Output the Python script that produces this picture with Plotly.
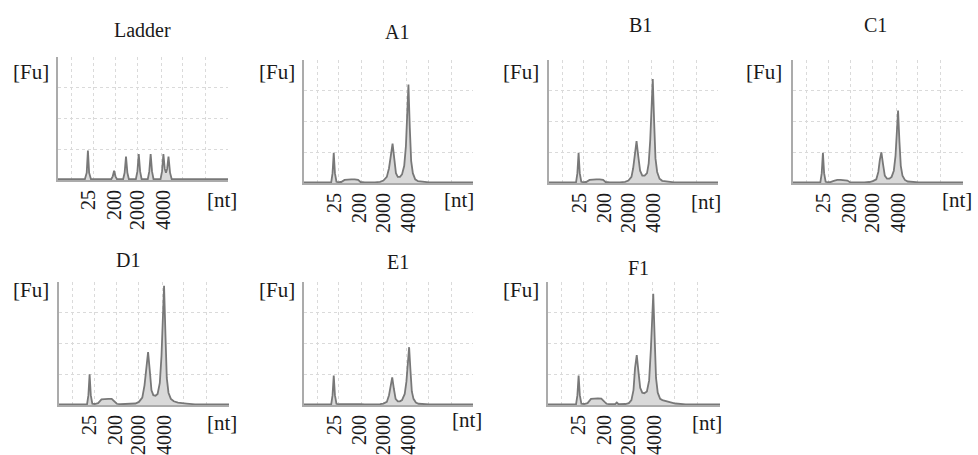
import plotly.graph_objects as go

W, H = 978, 455

# ---------------- data (migration position 0-100, fluorescence 0-100) ----------------
panel_names = ["Ladder", "A1", "B1", "C1", "D1", "E1", "F1"]
tick_vals = [18, 33, 47, 62]
tick_text = ["25", "200", "2000", "4000"]
grid_x = [7.8, 20.6, 34, 47, 60.6, 73.5, 87, 100]
grid_y = [25, 50, 75, 100]

ladder_x = [0, 15.8, 16.9, 17.6, 18.3, 19.4, 31.3, 32.2, 33, 33.8, 34.7, 38.3, 39.2, 40, 40.8, 41.7,
            45.8, 46.7, 47.5, 48.3, 49.2, 52.8, 53.7, 54.5, 55.3, 56.2, 60.3, 61.2, 62, 62.8, 63.5,
            64.2, 65, 65.9, 66.9, 100]
ladder_y = [0.6, 0.6, 6, 24, 6, 0.6, 0.6, 3, 7.5, 3, 0.6, 0.6, 6, 19, 6, 0.6,
            0.6, 7, 21, 7, 0.6, 0.6, 7, 21, 7, 0.6, 0.6, 7, 21, 9, 6,
            9, 19, 6, 0.6, 0.6]

a1_x = [0, 14, 16.1, 16.9, 17.6, 18.3, 19.2, 20.5, 22, 24, 26, 28, 30, 32, 33.5, 36, 42, 45, 47, 49,
        50.3, 51.4, 52.4, 53.4, 54.4, 55.5, 56.8, 58, 59.3, 60.3, 61.1, 61.8, 62.6, 63.4, 64.4, 65.8,
        67.5, 70, 74, 80, 100]
a1_y = [0.4, 0.4, 0.6, 8, 24.5, 8, 1, 0.6, 0.8, 2.5, 3, 3, 3, 2.5, 0.8, 0.5, 0.5, 1, 2, 5,
        12, 24, 32, 20, 8, 5, 5, 7, 14, 30, 62, 80, 45, 18, 8, 3,
        1.5, 1, 0.5, 0.4, 0.4]

b1_x = [0, 14, 16.0, 16.8, 17.5, 18.2, 19.1, 20.5, 22, 24, 26, 28, 30, 32, 33.5, 36, 42, 45, 47, 48.8,
        49.8, 50.8, 51.8, 52.8, 53.9, 55.2, 56.6, 58, 59.0, 59.9, 60.7, 61.4, 62.2, 63.0, 64.0, 65.4,
        67, 70, 74, 80, 100]
b1_y = [0.4, 0.4, 0.6, 8, 24.5, 8, 1, 0.6, 0.8, 2.5, 3, 3, 3, 2.5, 0.8, 0.5, 0.5, 1, 2, 5,
        12, 25, 34, 22, 10, 6, 6, 8, 16, 35, 68, 84.5, 50, 20, 9, 3.5,
        1.8, 1, 0.5, 0.4, 0.4]

c1_x = [0, 14, 16.1, 16.9, 17.6, 18.3, 19.2, 20.5, 22, 24, 26, 28, 30, 32, 33.5, 36, 42, 45, 47, 49,
        50.2, 51.1, 52, 53, 54, 55.3, 56.7, 58, 59.3, 60.3, 61.1, 61.8, 62.6, 63.4, 64.4, 65.8,
        67.5, 70, 74, 80, 100]
c1_y = [0.4, 0.4, 0.6, 8, 24.5, 8, 1, 0.6, 0.7, 1.8, 2.5, 2.5, 2.5, 2, 0.7, 0.5, 0.5, 0.8, 1.5, 3,
        9, 19, 25, 15, 6, 3.5, 3.5, 5, 10, 22, 46, 59, 34, 14, 6, 2.5,
        1.2, 0.8, 0.5, 0.4, 0.4]

d1_x = [0, 14, 16.5, 17.3, 18, 18.7, 19.6, 21, 23, 25, 27, 29, 31, 32.5, 34, 36, 42, 45, 47, 49,
        50.3, 51.4, 52.4, 53.4, 54.4, 55.5, 56.8, 58, 59.3, 60.3, 61.1, 61.8, 62.6, 63.4, 64.4, 65.8,
        67.5, 70, 75, 80, 100]
d1_y = [0.4, 0.4, 0.6, 8, 25, 8, 1, 0.8, 1.5, 4.5, 5, 5, 5, 3, 1, 0.6, 0.6, 1.2, 2.5, 6,
        16, 32, 43, 28, 12, 8, 7.5, 9, 18, 40, 78, 97, 58, 22, 10, 5,
        3, 2, 1.2, 0.5, 0.4]

e1_x = [0, 14, 16.1, 16.9, 17.6, 18.3, 19.2, 20.5, 22, 24, 26, 28, 30, 32, 33.5, 36, 42, 45, 47, 49,
        50.3, 51.3, 52.2, 53.2, 54.2, 55.5, 56.8, 58, 59.6, 60.6, 61.4, 62.2, 63.0, 63.8, 64.8, 66.2,
        67.8, 70, 74, 80, 100]
e1_y = [0.4, 0.4, 0.6, 8, 24, 8, 1, 0.6, 0.6, 1, 1.2, 1.2, 1, 0.8, 0.6, 0.5, 0.5, 0.7, 1.2, 2.5,
        8, 17, 22.5, 13, 5, 3, 3, 4, 9, 19, 38, 47, 28, 11, 5, 2,
        1, 0.7, 0.5, 0.4, 0.4]

f1_x = [0, 14, 16.3, 17.1, 17.8, 18.5, 19.4, 21, 23, 25, 27, 29, 31, 32.5, 34, 36, 39, 40, 41, 45,
        47, 48.5, 49.7, 50.6, 51.6, 52.6, 53.6, 54.8, 56, 57.5, 58.8, 59.8, 60.5, 61.2, 62.0, 62.8, 63.8,
        65.2, 66.5, 70, 74, 80, 100]
f1_y = [0.4, 0.4, 0.6, 8, 24, 8, 1, 0.8, 1.5, 5, 5.4, 5.4, 5.2, 3, 1, 0.6, 0.6, 2, 0.6, 0.8,
        1.5, 4, 12, 30, 40.5, 27, 14, 10, 9.5, 11, 20, 45, 75, 90.5, 55, 22, 10,
        5, 4, 2.5, 1.2, 0.5, 0.4]

xs = [ladder_x, a1_x, b1_x, c1_x, d1_x, e1_x, f1_x]
ys = [ladder_y, a1_y, b1_y, c1_y, d1_y, e1_y, f1_y]

# ---------------- layout geometry (pixels) ----------------
boxes = [
    (58, 228, 57, 180),
    (304, 473, 60, 183),
    (549, 718, 60, 183),
    (793, 963, 60, 183),
    (59, 229, 282, 405),
    (304, 473, 282, 405),
    (548, 720, 282, 405),
]
title_pos = [(142, 30), (397, 32), (640, 25), (875, 25), (128, 260), (398, 262), (638, 268)]
fu_pos = [(31, 72), (277, 72), (521, 72), (764, 72), (31, 290), (277, 290), (521, 290)]
nt_pos = [(222, 200), (459, 200), (706, 202), (957, 200), (222, 423), (467, 420), (707, 423)]

FONT = "Liberation Serif, Times New Roman, serif"
TXT = "#1a1a1a"

fig = go.Figure()
layout = dict(
    width=W, height=H,
    margin=dict(l=0, r=0, t=0, b=0),
    paper_bgcolor="white", plot_bgcolor="white",
    showlegend=False,
    font=dict(family=FONT, color=TXT),
    annotations=[],
)

def px_x(p):
    return p / W

def px_y(p):
    return 1 - p / H

for i, name in enumerate(panel_names):
    k = "" if i == 0 else str(i + 1)
    xa, ya = "x" + k, "y" + k
    fig.add_trace(go.Scatter(
        x=xs[i], y=ys[i], xaxis=xa, yaxis=ya, mode="lines",
        line=dict(color="#787878", width=1.8),
        fill="tozeroy", fillcolor="#d9d9d9", hoverinfo="skip",
    ))
    l, r, t, b = boxes[i]
    layout["xaxis" + k] = dict(
        domain=[px_x(l), px_x(r)], anchor=ya, range=[0, 100],
        showgrid=False, zeroline=False,
        showline=True, linecolor="#ababab", linewidth=2,
        tickmode="array", tickvals=tick_vals, ticktext=tick_text,
        tickangle=-90, ticks="", ticklen=0,
        tickfont=dict(family=FONT, size=20, color=TXT),
        minor=dict(tickvals=grid_x, showgrid=True, gridcolor="#dadada",
                   griddash="dot", gridwidth=1, ticks=""),
        fixedrange=True,
    )
    layout["yaxis" + k] = dict(
        domain=[px_y(b), px_y(t)], anchor=xa, range=[0, 100],
        showgrid=True, gridcolor="#dadada", griddash="dot", gridwidth=1,
        tickmode="array", tickvals=grid_y, showticklabels=False, ticks="",
        zeroline=False, showline=True, linecolor="#ababab", linewidth=2,
        fixedrange=True,
    )
    tx, ty = title_pos[i]
    layout["annotations"].append(dict(
        text=name, x=px_x(tx), y=px_y(ty), xref="paper", yref="paper",
        showarrow=False, xanchor="center", yanchor="middle",
        font=dict(family=FONT, size=20, color=TXT)))
    fx, fy = fu_pos[i]
    layout["annotations"].append(dict(
        text="[Fu]", x=px_x(fx), y=px_y(fy), xref="paper", yref="paper",
        showarrow=False, xanchor="center", yanchor="middle",
        font=dict(family=FONT, size=21, color=TXT)))
    nx, ny = nt_pos[i]
    layout["annotations"].append(dict(
        text="[nt]", x=px_x(nx), y=px_y(ny), xref="paper", yref="paper",
        showarrow=False, xanchor="center", yanchor="middle",
        font=dict(family=FONT, size=21, color=TXT)))

fig.update_layout(**layout)
fig.write_html("out.html", config={"displayModeBar": False},
               post_script="document.body.style.margin='0';document.body.style.overflow='hidden';")
